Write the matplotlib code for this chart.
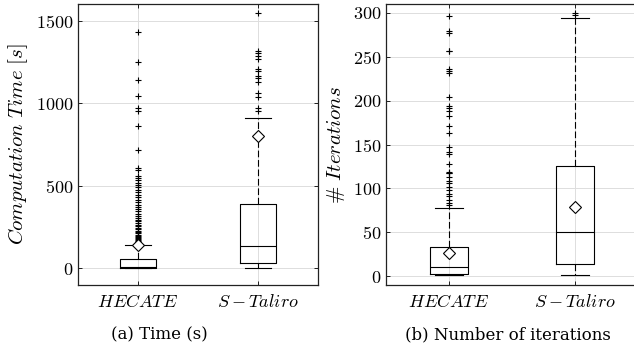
import matplotlib
matplotlib.use('Agg')
import matplotlib.pyplot as plt

plt.rcParams['mathtext.fontset'] = 'cm'
plt.rcParams['font.family'] = 'serif'
plt.rcParams['font.serif'] = ['cmr10', 'DejaVu Serif']
plt.rcParams['axes.formatter.use_mathtext'] = True

# nomes das ferramentas
tools = ['$HECATE$', '$S-Taliro$']

# (a) tempo de computacao [s]
time_q1 = [0, 35]
time_med = [9, 135]
time_q3 = [57, 392]
time_lo = [0, 0]
time_hi = [143, 913]
time_mean = [145, 800]
time_fliers = [
    [152, 158, 163, 168, 174, 180, 186, 192, 198, 205, 212, 220, 228, 236,
     245, 255, 265, 275, 285, 296, 308, 320, 332, 345, 358, 372, 386, 400,
     415, 430, 445, 460, 475, 490, 505, 520, 535, 548, 557, 594, 610, 719,
     861, 953, 968, 1044, 1143, 1250, 1430],
    [952, 968, 1038, 1062, 1130, 1150, 1164, 1194, 1204, 1265, 1285, 1301,
     1315, 1543],
]

# (b) numero de iteracoes
iter_q1 = [3, 14]
iter_med = [11, 50]
iter_q3 = [33, 126]
iter_lo = [1, 1]
iter_hi = [78, 294]
iter_mean = [26, 79]
iter_fliers = [
    [81, 83, 87, 91, 94, 98, 102, 106, 109, 113, 117, 118, 119, 128, 139,
     141, 147, 163, 171, 182, 188, 191, 194, 204, 231, 234, 236, 256, 257,
     277, 279, 296],
    [297, 300],
]


def make_stats(q1, med, q3, lo, hi, mean, fliers):
    stats = []
    for i in range(len(tools)):
        stats.append({'q1': q1[i], 'med': med[i], 'q3': q3[i],
                      'whislo': lo[i], 'whishi': hi[i],
                      'mean': mean[i], 'fliers': fliers[i],
                      'label': tools[i]})
    return stats


def draw(ax, stats):
    ax.grid(True, color='#dddddd', linewidth=0.7, zorder=0)
    ax.set_axisbelow(True)
    ax.bxp(stats, widths=0.3, capwidths=0.22, showmeans=True,
           boxprops=dict(color='black', linewidth=0.8),
           medianprops=dict(color='black', linewidth=0.8),
           whiskerprops=dict(color='black', linewidth=0.8,
                             linestyle=(0, (6, 2.5))),
           capprops=dict(color='black', linewidth=0.8),
           flierprops=dict(marker='+', markersize=5,
                           markeredgecolor='black', markeredgewidth=0.8),
           meanprops=dict(marker='D', markersize=6.5,
                          markerfacecolor='white', markeredgecolor='black',
                          markeredgewidth=0.8))
    ax.set_xlim(0.5, 2.5)
    ax.tick_params(direction='in', top=True, right=True, labelsize=13,
                   length=3, width=0.6)
    ax.tick_params(axis='x', labelsize=13, pad=6)
    for s in ax.spines.values():
        s.set_linewidth(0.9)
        s.set_color('#222222')


W, H = 634, 343
fig = plt.figure(figsize=(W / 100, H / 100), dpi=100)

ax1 = fig.add_axes([78 / W, (H - 285) / H, 240 / W, 281 / H])
draw(ax1, make_stats(time_q1, time_med, time_q3, time_lo, time_hi,
                     time_mean, time_fliers))
ax1.set_ylim(-100, 1600)
ax1.set_yticks([0, 500, 1000, 1500])
ax1.set_ylabel(r'$Computation\ Time\ [s]$', fontsize=15, labelpad=4)

ax2 = fig.add_axes([386 / W, (H - 285) / H, 252 / W, 281 / H])
draw(ax2, make_stats(iter_q1, iter_med, iter_q3, iter_lo, iter_hi,
                     iter_mean, iter_fliers))
ax2.set_ylim(-10, 310)
ax2.set_yticks([0, 50, 100, 150, 200, 250, 300])
ax2.set_ylabel(r'$\#\ Iterations$', fontsize=15, labelpad=4)

fig.text(159.5 / W, 1 - 335 / H, '(a) Time (s)', ha='center', va='center',
         fontsize=12, family='DejaVu Serif')
fig.text(508 / W, 1 - 335 / H, '(b) Number of iterations', ha='center',
         va='center', fontsize=12, family='DejaVu Serif')

fig.savefig('out.png', dpi=100)
